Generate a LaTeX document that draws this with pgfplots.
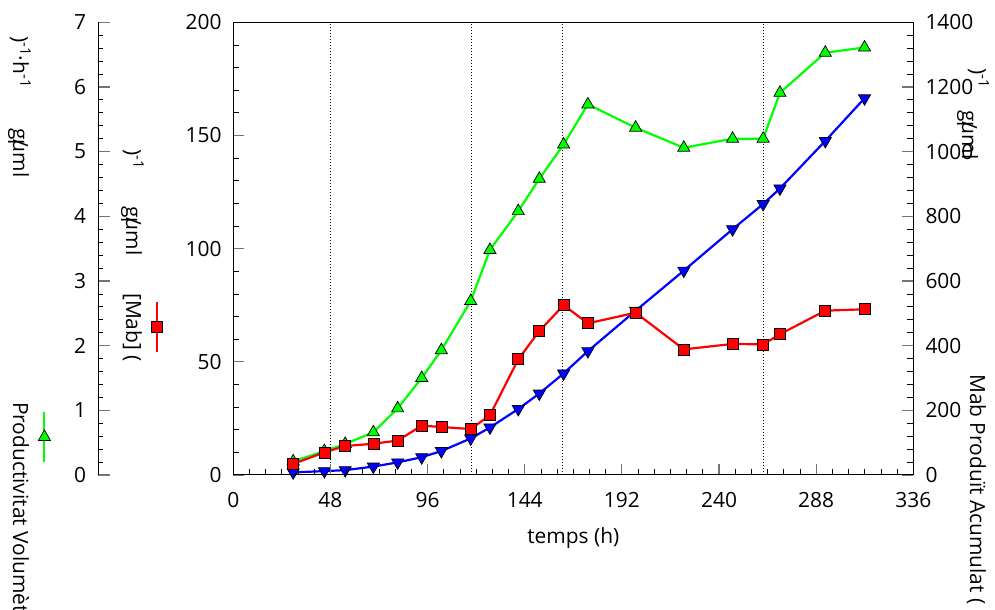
\documentclass[border=0pt]{standalone}
\usepackage{pgfplots}
\pgfplotsset{compat=1.18}
\usepackage{pgfplotstable}
\usepackage{fontspec}
\setmainfont{Open Sans}
\definecolor{cgreen}{RGB}{0,255,0}
\definecolor{cred}{RGB}{255,0,0}
\definecolor{cblue}{RGB}{0,0,255}
\newcommand{\lf}{\fontsize{21}{25}\selectfont}

\pgfplotstableread{
t green red blue
29.6 0.21 4.9 8
45.0 0.37 10.0 12
55.3 0.48 12.8 15
69.2 0.66 13.8 26
81.2 1.03 15.2 39
93.1 1.50 21.8 55
102.8 1.93 21.2 74
117.3 2.69 20.3 113
126.8 3.48 26.4 147
140.8 4.08 51.1 204
151.2 4.58 63.6 252
163.2 5.11 75.0 314
175.2 5.73 67.0 383
198.8 5.37 71.7 508
222.6 5.06 55.5 632
246.7 5.20 57.9 760
261.8 5.20 57.7 838
270.1 5.91 62.2 886
292.5 6.53 72.6 1033
311.9 6.61 73.2 1165
}\datatable

\pgfplotsset{
  base/.style={
    scale only axis, width=680bp, height=452.7bp,
    at={(233.3bp,135bp)}, anchor=south west,
    xmin=0, xmax=336,
    font=\lf,
    /pgf/number format/assume math mode=true,
    /pgf/number format/1000 sep={},
    major tick length=11bp, minor tick length=6bp,
    major tick style={black!55, line width=1.2bp},
    minor tick style={black, line width=0.8bp},
    axis line style={black, line width=1bp},
  },
  emptylegend/.style={
    legend style={draw=none, fill=none, inner sep=0pt, outer sep=0pt,
      nodes={inner sep=0pt, outer sep=0pt}, anchor=center},
  },
}

\begin{document}
\begin{tikzpicture}[x=1bp,y=1bp]
\useasboundingbox (0,0) rectangle (995,610);

% green scale axis (outer left)
\begin{axis}[
  scale only axis, width=20bp, height=452.7bp,
  at={(98.3bp,135bp)}, anchor=south west,
  xmin=0, xmax=1, ymin=0, ymax=7,
  axis y line*=left, hide x axis,
  font=\lf,
  /pgf/number format/assume math mode=true,
  ytick={0,1,...,7}, minor y tick num=4,
  tick align=inside,
  major tick length=12bp, minor tick length=5bp,
  major tick style={black!55, line width=1.2bp},
  minor tick style={black, line width=0.8bp},
  axis line style={black, line width=1bp},
  yticklabel style={inner sep=0pt, xshift=-12bp},
]
\end{axis}

% green data axis
\begin{axis}[base, ymin=0, ymax=7, hide axis, emptylegend,
  legend style={at={(-0.277,0.084)}},
  legend image code/.code={%
    \draw[cgreen, line width=2bp, mark=none] (0bp,-25bp) -- (0bp,25bp);
    \draw[mark=triangle*, mark size=7bp, mark options={fill=cgreen, draw=black, line width=0.7bp}] plot coordinates {(0bp,0bp)};
  },
]
\addplot[black, line width=0.9bp, dash pattern=on 1bp off 2bp, forget plot] coordinates {(48,0) (48,7)};
\addplot[black, line width=0.9bp, dash pattern=on 1bp off 2bp, forget plot] coordinates {(117.5,0) (117.5,7)};
\addplot[black, line width=0.9bp, dash pattern=on 1bp off 2bp, forget plot] coordinates {(162.7,0) (162.7,7)};
\addplot[black, line width=0.9bp, dash pattern=on 1bp off 2bp, forget plot] coordinates {(262,0) (262,7)};
\addplot[cgreen, line width=2.2bp, mark=triangle*, mark size=7bp,
  mark options={fill=cgreen, draw=black, line width=0.7bp}] table[x=t, y=green] {\datatable};
\addlegendentry{}
\end{axis}

% blue axis (right)
\begin{axis}[base, ymin=0, ymax=1400,
  axis y line*=right, axis x line=none,
  ytick={0,200,...,1400}, minor y tick num=4,
  tick align=inside,
  yticklabel style={inner sep=0pt, xshift=12bp, anchor=west},
]
\addplot[cblue, line width=2.2bp, mark=triangle*, mark size=7bp,
  mark options={fill=cblue, draw=black, line width=0.7bp, rotate=180}] table[x=t, y=blue] {\datatable};
\end{axis}

% red main axis
\begin{axis}[base, ymin=0, ymax=200,
  xtick={0,48,...,336}, minor x tick num=5,
  ytick={0,50,...,200}, minor y tick num=4,
  xtick pos=bottom, ytick pos=left,
  tick align=inside,
  xticklabel style={inner sep=0pt, yshift=-17bp, anchor=north},
  yticklabel style={inner sep=0pt, xshift=-11.5bp, anchor=east},
  xlabel={temps (h)},
  xlabel style={at={(axis description cs:0.5,0)}, anchor=center, yshift=-63bp, inner sep=0pt},
  emptylegend,
  legend style={at={(-0.1122,0.327)}},
  legend image code/.code={%
    \draw[cred, line width=2bp, mark=none] (0bp,-25bp) -- (0bp,25bp);
    \draw[mark=square*, mark size=5.5bp, mark options={fill=cred, draw=black, line width=0.7bp}] plot coordinates {(0bp,0bp)};
  },
]
\addplot[cred, line width=2.2bp, mark=square*, mark size=5.5bp,
  mark options={fill=cred, draw=black, line width=0.7bp}] table[x=t, y=red] {\datatable};
\addlegendentry{}
\end{axis}

% axis titles (pieces as in the reference)
\node[rotate=-90, anchor=base west, inner sep=0pt, font=\lf] at (13,208) {Productivitat Volumètrica (};
\node[rotate=-90, anchor=base west, inner sep=0pt, font=\lf] at (13,574) {)\textsuperscript{-1}·h\textsuperscript{-1}};
\node[rotate=-90, anchor=base west, inner sep=0pt, font=\lf] at (13,482) {g\rlap{/}µml};

\node[rotate=-90, anchor=base west, inner sep=0pt, font=\lf] at (126,317) {[Mab] (};
\node[rotate=-90, anchor=base west, inner sep=0pt, font=\lf] at (126,404) {g\rlap{/}µml};
\node[rotate=-90, anchor=base west, inner sep=0pt, font=\lf] at (126,461) {)\textsuperscript{-1}};

\node[rotate=-90, anchor=base west, inner sep=0pt, font=\lf] at (970,236) {Mab Produït Acumulat (};
\node[rotate=-90, anchor=base west, inner sep=0pt, font=\lf] at (962,500) {g\rlap{/}µml};
\node[rotate=-90, anchor=base west, inner sep=0pt, font=\lf] at (971,542) {)\textsuperscript{-1}};
\end{tikzpicture}
\end{document}
